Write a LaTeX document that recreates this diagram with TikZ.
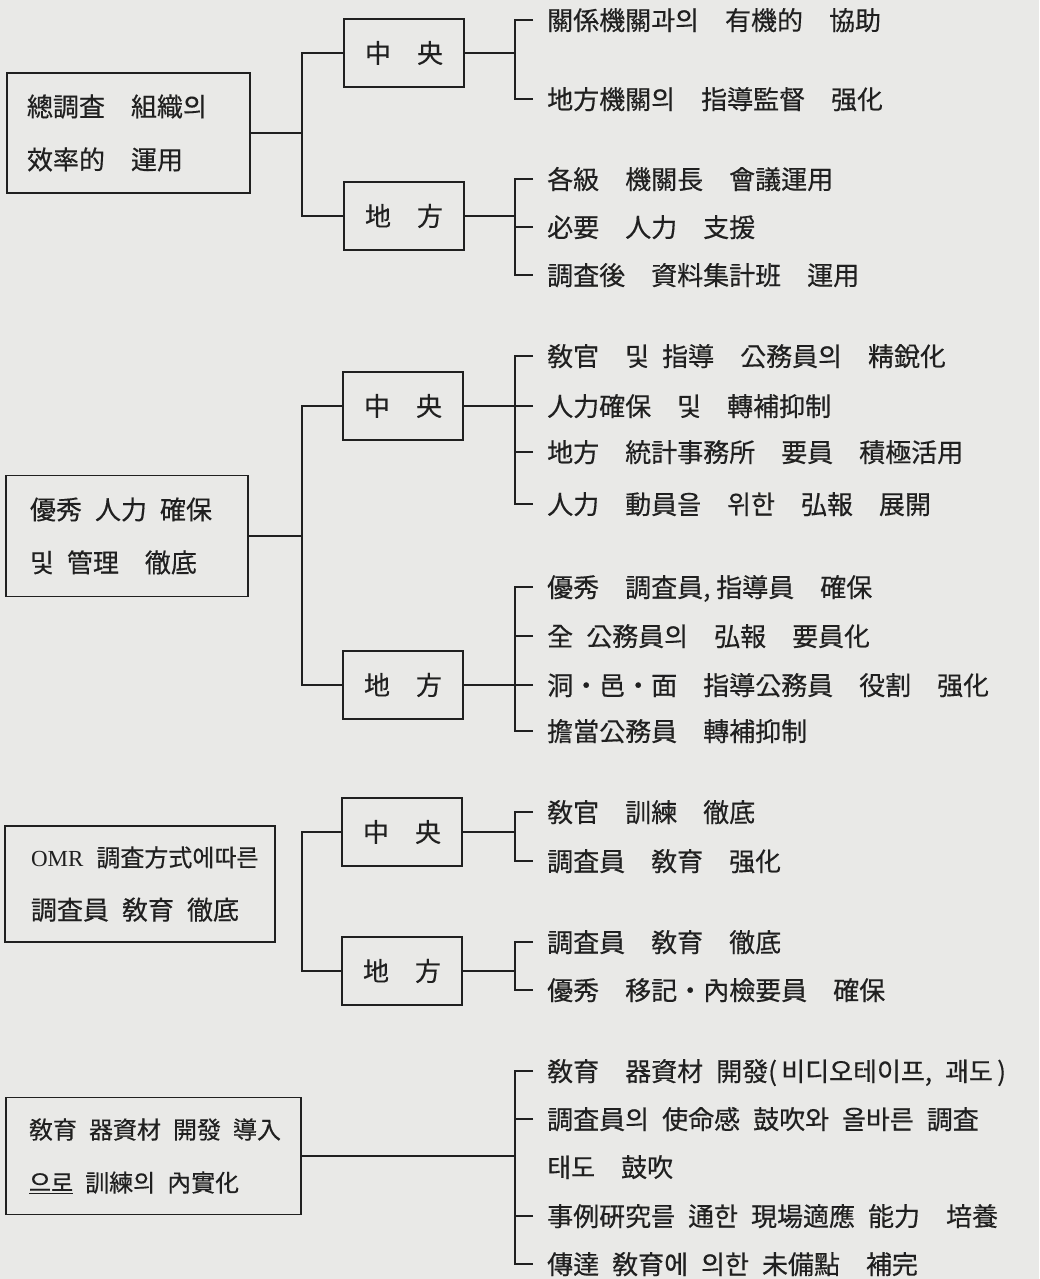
\documentclass[tikz,border=0pt]{standalone}
\usepackage{fontspec}
\newfontfamily\kr[FakeBold=0.4]{Noto Sans CJK KR}
\newfontfamily\omrfont{Liberation Serif}
\usepackage{tikz}
\usetikzlibrary{positioning}
\definecolor{paper}{RGB}{233,233,231}
\definecolor{ink}{RGB}{32,32,32}

\begin{document}
\begin{tikzpicture}[
            x=1pt, y=-1pt,
            block/.style={rectangle, draw=ink, line width=1.8pt, align=left, inner ysep=0pt, text=ink, font=\kr\fontsize{26}{53}\selectfont},
            subblock/.style={rectangle, draw=ink, line width=1.8pt, minimum width=120pt, minimum height=68pt, text=ink, font=\kr\fontsize{26}{30}\selectfont},
            entry/.style={anchor=west, inner xsep=14pt, inner ysep=0pt, text height=23pt, text depth=3pt, text=ink, font=\kr\fontsize{26}{30}\selectfont},
            link/.style={draw=ink, line width=1.8pt}
        ]

        \useasboundingbox (0,0) rectangle (1039,1279);
        \fill[paper] (0,0) rectangle (1039,1279);

        \coordinate (sx) at (302,0);
        \coordinate (bx) at (515,0);

        \node[block, text width=203pt, inner xsep=20pt, minimum height=120pt] (goal1) at (128.5,133) {總調査\quad 組織의\\效率的\quad 運用};
        \node[subblock] (cen1) at (404,53) {中\quad 央};
        \node[subblock] (loc1) at (404,216) {地\quad 方};
        \node[entry] (cen1a) at (533,20) {關係機關과의\quad 有機的\quad 協助};
        \node[entry] (cen1b) at (533,99) {地方機關의\quad 指導監督\quad 强化};
        \node[entry] (loc1a) at (533,179) {各級\quad 機關長\quad 會議運用};
        \node[entry] (loc1b) at (533,227) {必要\quad 人力\quad 支援};
        \node[entry] (loc1c) at (533,275) {調査後\quad 資料集計班\quad 運用};

        \draw[link] (goal1.east) -- (goal1.east -| sx);
        \draw[link] (cen1.west) -- (cen1.west -| sx) -- (loc1.west -| sx) -- (loc1.west);
        \draw[link] (cen1.east) -- (cen1.east -| bx);
        \draw[link] (cen1a.west) -- (cen1a.west -| bx) -- (cen1b.west -| bx) -- (cen1b.west);
        \draw[link] (loc1.east) -- (loc1.east -| bx);
        \draw[link] (loc1a.west) -- (loc1a.west -| bx) -- (loc1c.west -| bx) -- (loc1c.west);
        \draw[link] (loc1b.west) -- (loc1b.west -| bx);

        \node[block, text width=194pt, inner xsep=24pt, minimum height=121pt] (goal2) at (127,536) {優秀\enspace 人力\enspace 確保\\및\enspace 管理\quad 徹底};
        \node[subblock] (cen2) at (403,406) {中\quad 央};
        \node[subblock] (loc2) at (403,685) {地\quad 方};
        \node[entry] (cen2a) at (533,356) {敎官\quad 및\enspace 指導\quad 公務員의\quad 精銳化};
        \node[entry] (cen2b) at (533,406) {人力確保\quad 및\quad 轉補抑制};
        \node[entry] (cen2c) at (533,452) {地方\quad 統計事務所\quad 要員\quad 積極活用};
        \node[entry] (cen2d) at (533,504) {人力\quad 動員을\quad 위한\quad 弘報\quad 展開};
        \node[entry] (loc2a) at (533,587) {優秀\quad 調査員, 指導員\quad 確保};
        \node[entry] (loc2b) at (533,636) {全\enspace 公務員의\quad 弘報\quad 要員化};
        \node[entry] (loc2c) at (533,685) {洞・邑・面\quad 指導公務員\quad 役割\quad 强化};
        \node[entry] (loc2d) at (533,731) {擔當公務員\quad 轉補抑制};

        \draw[link] (goal2.east) -- (goal2.east -| sx);
        \draw[link] (cen2.west) -- (cen2.west -| sx) -- (loc2.west -| sx) -- (loc2.west);
        \draw[link] (cen2.east) -- (cen2.east -| bx);
        \draw[link] (cen2a.west) -- (cen2a.west -| bx) -- (cen2d.west -| bx) -- (cen2d.west);
        \draw[link] (cen2b.west) -- (cen2b.west -| bx);
        \draw[link] (cen2c.west) -- (cen2c.west -| bx);
        \draw[link] (loc2.east) -- (loc2.east -| bx);
        \draw[link] (loc2a.west) -- (loc2a.west -| bx) -- (loc2d.west -| bx) -- (loc2d.west);
        \draw[link] (loc2b.west) -- (loc2b.west -| bx);
        \draw[link] (loc2c.west) -- (loc2c.west -| bx);

        \node[block, text width=218pt, inner xsep=26pt, minimum height=116pt] (goal3) at (140,884) {{\omrfont\fontsize{23}{53}\selectfont OMR}\enspace{\fontsize{24}{53}\selectfont 調査方式에따른}\\調査員\enspace 敎育\enspace 徹底};
        \node[subblock] (cen3) at (402,832) {中\quad 央};
        \node[subblock] (loc3) at (402,971) {地\quad 方};
        \node[entry] (cen3a) at (533,812) {敎官\quad 訓練\quad 徹底};
        \node[entry] (cen3b) at (533,861) {調査員\quad 敎育\quad 强化};
        \node[entry] (loc3a) at (533,942) {調査員\quad 敎育\quad 徹底};
        \node[entry] (loc3b) at (533,990) {優秀\quad 移記・內檢要員\quad 確保};

        \draw[link] (cen3.west) -- (cen3.west -| sx) -- (loc3.west -| sx) -- (loc3.west);
        \draw[link] (cen3.east) -- (cen3.east -| bx);
        \draw[link] (cen3a.west) -- (cen3a.west -| bx) -- (cen3b.west -| bx) -- (cen3b.west);
        \draw[link] (loc3.east) -- (loc3.east -| bx);
        \draw[link] (loc3a.west) -- (loc3a.west -| bx) -- (loc3b.west -| bx) -- (loc3b.west);

        \node[block, text width=249pt, inner xsep=23pt, minimum height=117pt, font=\kr\fontsize{24}{53}\selectfont] (goal4) at (153.5,1156) {敎育\enspace 器資材\enspace 開發\enspace 導入\\\underline{으로}\enspace 訓練의\enspace 內實化};
        \node[entry] (goal4a) at (533,1071) {敎育\quad 器資材\enspace 開發(\,비디오테이프,\enspace 괘도\,)};
        \node[entry] (goal4b) at (533,1119) {調査員의\enspace 使命感\enspace 鼓吹와\enspace 올바른\enspace 調査};
        \node[entry] (goal4c) at (533,1167) {태도\quad 鼓吹};
        \node[entry] (goal4d) at (533,1216) {事例硏究를\enspace 通한\enspace 現場適應\enspace 能力\quad 培養};
        \node[entry] (goal4e) at (533,1264) {傳達\enspace 敎育에\enspace 의한\enspace 未備點\quad 補完};

        \draw[link] (goal4.east) -- (goal4.east -| bx);
        \draw[link] (goal4a.west) -- (goal4a.west -| bx) -- (goal4e.west -| bx) -- (goal4e.west);
        \draw[link] (goal4b.west) -- (goal4b.west -| bx);
        \draw[link] (goal4d.west) -- (goal4d.west -| bx);

    \end{tikzpicture}
\end{document}
